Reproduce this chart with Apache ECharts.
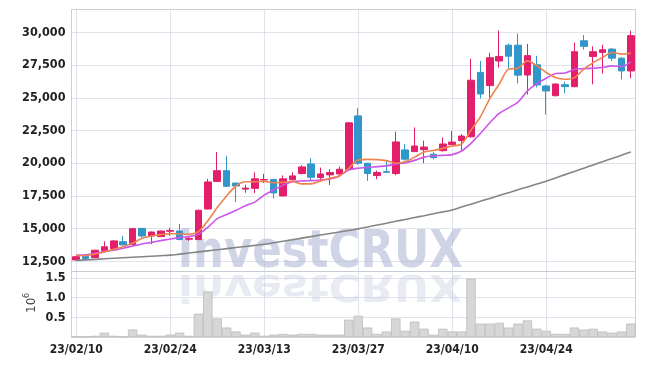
<!DOCTYPE html>
<html>
<head>
<meta charset="utf-8">
<script src="https://cdn.jsdelivr.net/npm/echarts@6/dist/echarts.min.js"></script>
<style>
html, body { margin: 0; padding: 0; background: #fff; }
#main { width: 645px; height: 366px; }
</style>
</head>
<body>
<div id="main"></div>
<script>
var dates = ['23/02/10','23/02/13','23/02/14','23/02/15','23/02/16','23/02/17','23/02/20','23/02/21','23/02/22','23/02/23',
  '23/02/24','23/02/27','23/02/28','23/03/02','23/03/03','23/03/06','23/03/07','23/03/08','23/03/09','23/03/10',
  '23/03/13','23/03/14','23/03/15','23/03/16','23/03/17','23/03/20','23/03/21','23/03/22','23/03/23','23/03/24',
  '23/03/27','23/03/28','23/03/29','23/03/30','23/03/31','23/04/03','23/04/04','23/04/05','23/04/06','23/04/07',
  '23/04/10','23/04/11','23/04/12','23/04/13','23/04/14','23/04/17','23/04/18','23/04/19','23/04/20','23/04/21',
  '23/04/24','23/04/25','23/04/26','23/04/27','23/04/28','23/05/02','23/05/03','23/05/04','23/05/08','23/05/09'];

// [open, close, low, high]
var ohlc = [
  [12600,12850,12580,12870],[12870,12720,12650,12880],[12780,13350,12760,13370],[13300,13610,13280,14030],
  [13450,14060,13430,14130],[14000,13750,13720,14440],[13780,15000,13760,15020],[15020,14440,14300,15030],
  [14440,14740,13810,14780],[14390,14820,14370,14840],[14800,14860,14450,15060],[14820,14170,14100,15360],
  [14190,14240,14060,14440],[14160,16400,14140,16450],[16500,18570,16480,18800],[18610,19430,18570,20850],
  [19430,18240,18180,20570],[18480,18260,17040,18510],[18020,18100,17740,18360],[18080,18810,17720,19300],
  [18720,18760,18490,19190],[18760,17730,17320,18780],[17500,18810,17480,19070],[18730,19030,18680,19310],
  [19210,19720,19150,19850],[19950,18930,18650,20380],[18900,19180,18600,19670],[19110,19290,18340,19540],
  [19180,19540,19150,19750],[19520,23090,19500,23150],[23620,20000,19870,24210],[20000,19210,18650,20030],
  [19060,19290,18780,19440],[19360,19310,19290,20150],[19210,21630,19080,22420],[21020,20310,20200,21470],
  [20890,21320,20870,22740],[21040,21240,20000,21730],[20690,20430,20310,20860],[20960,21470,20900,21980],
  [21420,21620,21400,22460],[21730,22080,21020,22230],[22030,26350,21950,28000],[26950,25300,24950,27840],
  [25940,28070,25030,28450],[27820,28170,27310,30150],[29030,28190,27250,29160],[29030,26740,26100,29920],
  [26750,28230,25260,29120],[27530,25990,25800,28220],[25910,25530,23730,26000],[25170,26060,25100,26100],
  [26010,25860,25350,26240],[25860,28530,25800,29240],[29370,28940,28700,29810],[28170,28530,26040,28940],
  [28480,28680,26860,29060],[28730,28040,27800,28810],[28040,27060,26420,28120],[27060,29760,26500,30140]
];

var volume = [10000,10000,30000,110000,30000,10000,190000,60000,30000,30000,
  60000,110000,30000,590000,1150000,470000,240000,140000,60000,110000,
  30000,60000,80000,60000,80000,80000,60000,60000,60000,440000,
  540000,240000,80000,140000,470000,160000,390000,210000,60000,210000,
  140000,140000,1480000,340000,340000,360000,240000,340000,420000,210000,
  160000,80000,80000,240000,190000,210000,140000,110000,140000,340000];

var maShort = [12960,12930,13060,13210,13420,13620,13880,14260,14440,14540,
  14620,14590,14570,14770,15600,16610,17500,18260,18590,18590,
  18610,18510,18540,18600,18420,18420,18650,18850,19030,19620,
  20250,20300,20280,20200,20000,20110,20470,20860,20970,21140,
  21320,21470,22540,23550,24950,26040,27200,27270,27830,27450,
  26940,26550,26420,26550,27190,27700,28090,28470,28350,28420];

var maMid = [12960,12990,13110,13240,13340,13500,13670,13830,13950,14080,
  14210,14310,14390,14560,15100,15760,16080,16400,16750,17030,
  17560,17960,18320,18580,18650,18670,18720,18800,19030,19490,
  19620,19670,19740,19800,19940,20030,20220,20470,20570,20600,
  20660,20940,21520,22280,23100,23810,24240,24680,25530,26090,
  26500,26860,26910,27170,27240,27270,27320,27450,27400,27760];

var maLong = [12570,12610,12650,12690,12730,12770,12810,12850,12890,12930,
  12970,13050,13130,13220,13300,13380,13470,13550,13630,13720,
  13800,13920,14040,14150,14270,14390,14510,14630,14740,14860,
  14980,15120,15270,15410,15560,15700,15850,15990,16140,16280,
  16430,16650,16870,17090,17310,17530,17750,17970,18190,18410,
  18630,18880,19130,19370,19620,19870,20120,20360,20610,20860];

var priceTicks = [12500, 15000, 17500, 20000, 22500, 25000, 27500, 30000];

var labelFont = {
  color: '#222',
  fontFamily: "'DejaVu Sans Condensed', sans-serif",
  fontWeight: 'bold',
  fontSize: 12
};
var gridLine = { show: true, lineStyle: { type: 'dotted', color: '#c3c7da', width: 1 } };

function withComma(v) {
  return String(v).replace(/\B(?=(\d{3})+(?!\d))/g, ',');
}

var chart = echarts.init(document.getElementById('main'), null, { renderer: 'canvas' });

var option = {
  animation: false,
  backgroundColor: '#fff',
  grid: [
    { left: 71.5, right: 9.5, top: 9.5, height: 262, show: true, borderColor: '#cfcfcf', borderWidth: 1 },
    { left: 71.5, right: 9.5, top: 271.5, height: 65.5, show: true, borderColor: '#cfcfcf', borderWidth: 1 }
  ],
  xAxis: [
    {
      type: 'category', gridIndex: 0, data: dates, boundaryGap: true,
      axisLine: { show: false }, axisTick: { show: false, interval: 9, alignWithLabel: true },
      axisLabel: { show: false },
      splitLine: { show: true, interval: 9, alignWithLabel: true, lineStyle: gridLine.lineStyle }
    },
    {
      type: 'category', gridIndex: 1, data: dates, boundaryGap: true,
      axisLine: { show: false }, axisTick: { show: false, interval: 9, alignWithLabel: true },
      axisLabel: Object.assign({ interval: 9, margin: 7 }, labelFont),
      splitLine: { show: true, interval: 9, alignWithLabel: true, lineStyle: gridLine.lineStyle }
    }
  ],
  yAxis: [
    {
      type: 'value', gridIndex: 0, min: 11720, max: 31760,
      axisLine: { show: false },
      axisTick: { show: false, customValues: priceTicks },
      axisLabel: Object.assign({ customValues: priceTicks, margin: 6, formatter: withComma }, labelFont, { fontSize: 12.5 }),
      splitLine: gridLine
    },
    {
      type: 'value', gridIndex: 1, min: 0, max: 1660000, interval: 500000,
      axisLine: { show: false }, axisTick: { show: false },
      axisLabel: Object.assign({
        margin: 6, showMinLabel: false, showMaxLabel: false,
        formatter: function (v) { return (v / 1e6).toFixed(1); }
      }, labelFont, { fontSize: 12.5 }),
      splitLine: gridLine
    }
  ],
  graphic: [
    {
      type: 'text', x: 178, y: 279, scaleX: 0.93, z: 1, silent: true,
      style: {
        text: 'investCRUX', fill: 'rgba(178,186,214,0.62)', x: 0, y: 0,
        verticalAlign: 'bottom',
        font: "bold 52px 'DejaVu Sans Condensed', sans-serif"
      }
    },
    {
      type: 'text', x: 178, y: 266, scaleX: 0.93, scaleY: -0.72, z: 1, silent: true,
      style: {
        text: 'investCRUX', fill: 'rgba(200,205,225,0.4)', x: 0, y: 0,
        verticalAlign: 'bottom',
        font: "bold 52px 'DejaVu Sans Condensed', sans-serif"
      }
    },
    {
      type: 'text', x: 38, y: 313, rotation: Math.PI / 2, silent: true,
      style: { text: '10', fill: '#444', font: "12px 'DejaVu Sans', sans-serif", verticalAlign: 'bottom' }
    },
    {
      type: 'text', x: 31, y: 298, rotation: Math.PI / 2, silent: true,
      style: { text: '6', fill: '#444', font: "8px 'DejaVu Sans', sans-serif", verticalAlign: 'bottom' }
    }
  ],
  series: [
    {
      type: 'candlestick', xAxisIndex: 0, yAxisIndex: 0, data: ohlc, barWidth: 7,
      itemStyle: { color: '#e31f6b', color0: '#3197ca', borderColor: '#e31f6b', borderColor0: '#3197ca', borderWidth: 1 }
    },
    {
      type: 'line', xAxisIndex: 0, yAxisIndex: 0, data: maLong, smooth: 0.3, symbol: 'none',
      lineStyle: { color: '#858585', width: 1.6 }
    },
    {
      type: 'line', xAxisIndex: 0, yAxisIndex: 0, data: maMid, smooth: 0.3, symbol: 'none',
      lineStyle: { color: '#cc55e8', width: 1.6 }
    },
    {
      type: 'line', xAxisIndex: 0, yAxisIndex: 0, data: maShort, smooth: 0.3, symbol: 'none',
      lineStyle: { color: '#ef8350', width: 1.6 }
    },
    {
      type: 'bar', xAxisIndex: 1, yAxisIndex: 1, data: volume, barWidth: '100%',
      itemStyle: { color: '#d7d7d7', borderColor: '#bdbdbd', borderWidth: 0.8 }
    }
  ]
};

chart.setOption(option);
window.addEventListener('resize', function () { chart.resize(); });
</script>
</body>
</html>
